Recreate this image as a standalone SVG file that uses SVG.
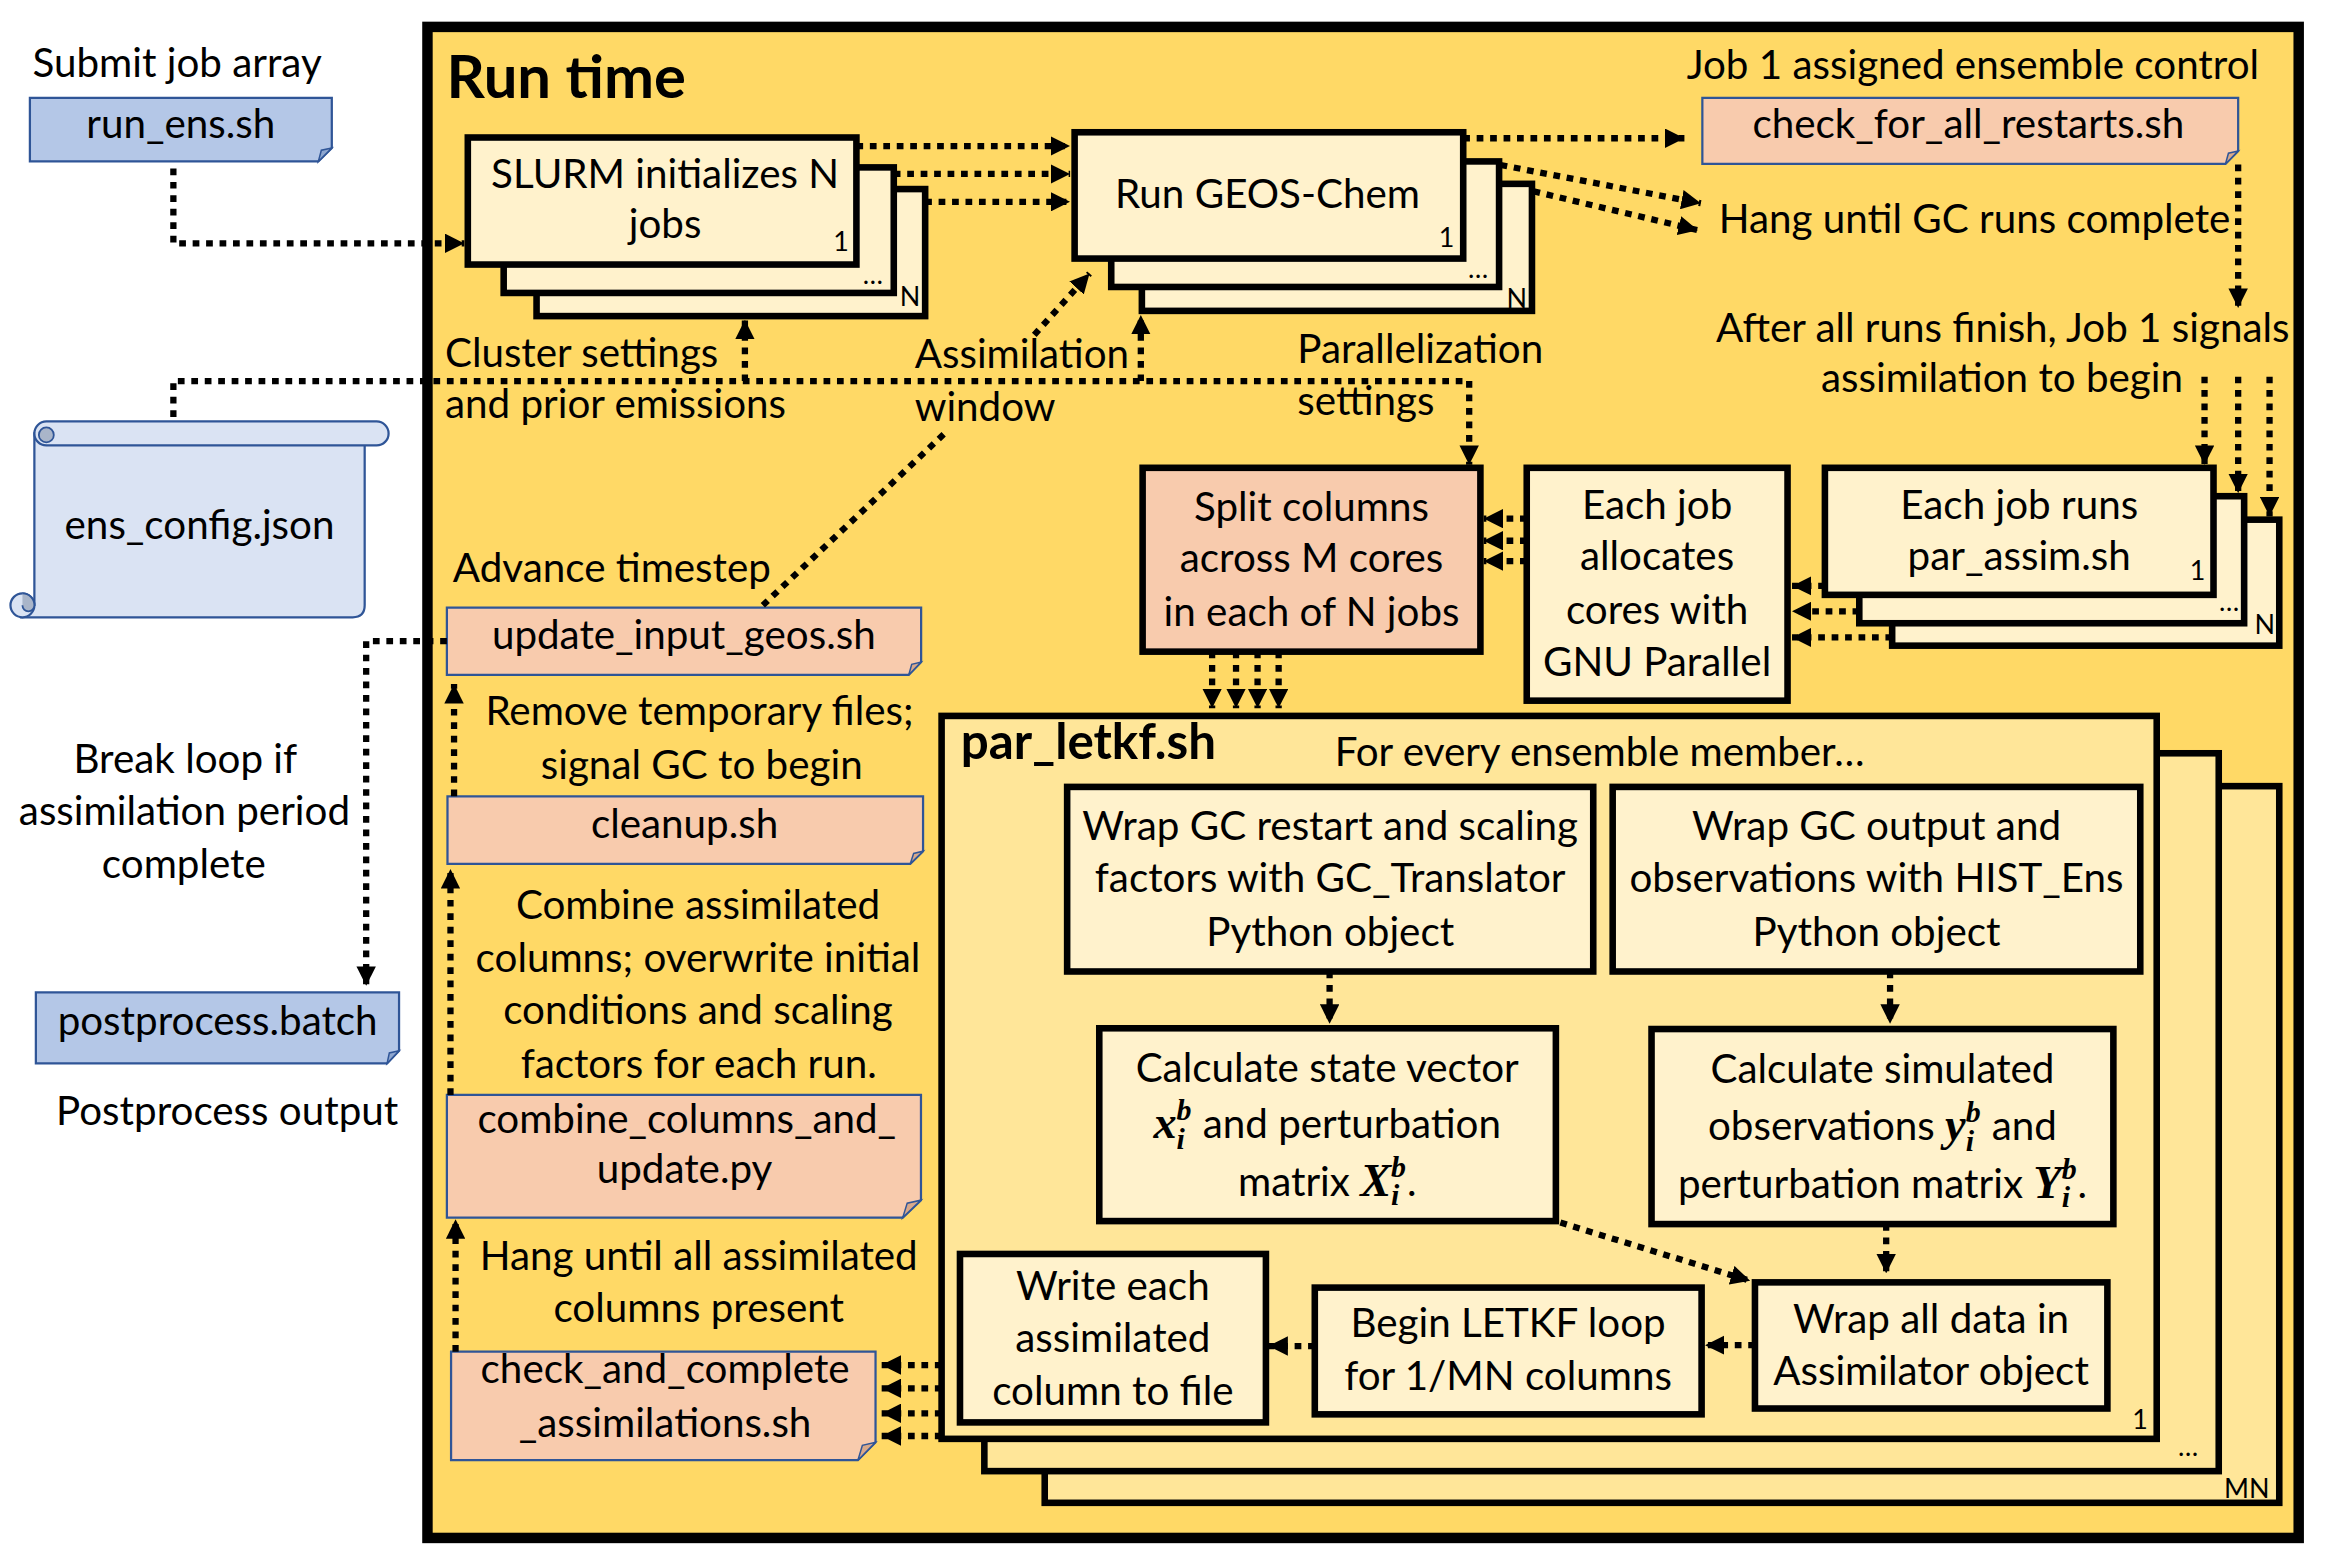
<svg xmlns="http://www.w3.org/2000/svg" width="2333" height="1561" viewBox="0 0 2333 1561">
<defs>
<style>
.t{font-family:Lato,"Liberation Sans",sans-serif;font-size:27px;fill:#000}
.c{text-anchor:middle}
.e{text-anchor:end}
.big{font-weight:bold;font-size:40px}
.mid{font-weight:bold;font-size:33px}
.sm{font-size:18px}
.m{font-family:"Liberation Serif",serif;font-weight:bold;font-style:italic}
.mx{font-size:31px}
.ms{font-size:20px}
.box{fill:#FFF2CC;stroke:#000;stroke-width:4.4}
.lk{fill:#FFE699;stroke:#000;stroke-width:4.4}
.file{fill:#F8CBAD;stroke:#2F5597;stroke-width:1.5}
.fold1{fill:#D9A98A;stroke:#2F5597;stroke-width:1}
.blue{fill:#B4C7E7;stroke:#2F5597;stroke-width:1.5}
.fold2{fill:#8EA6CF;stroke:#2F5597;stroke-width:1}
.cn{fill:none;stroke:#000;stroke-width:4.2;stroke-dasharray:4.5 4.5}
.a{marker-end:url(#ah)}
</style>
<marker id="ah" viewBox="0 0 13 13" refX="13" refY="6.5" markerWidth="13" markerHeight="13" markerUnits="userSpaceOnUse" orient="auto">
<path d="M0,0 L13,6.5 L0,13 Z" fill="#000"/>
</marker>
</defs>
<rect x="0" y="0" width="2333" height="1561" fill="#fff"/>
<g transform="scale(1.4946)">

<g id="runtime">
<rect x="286" y="18" width="1252" height="1011" fill="#FFD966" stroke="#000" stroke-width="7"/>
<text class="t big" x="298.7" y="65.8">Run time</text>
</g>

<!-- outside nodes -->
<g id="run_ens">
<text class="t c" x="118.5" y="51.4">Submit job array</text>
<path class="blue" d="M20,65.5 H222 V99 L213,108 H20 Z"/>
<path class="fold2" d="M213,108 L222,99 L215,100.5 Z"/>
<text class="t c" x="121" y="92.5">run_ens.sh</text>
</g>

<g id="ens_config">
<path d="M23,290 H244 V405 Q244,413 236,413 H15 L23,405 Z" fill="#DAE3F3" stroke="#2F5597" stroke-width="1.5"/>
<rect x="23" y="282" width="237" height="16" rx="8" fill="#DAE3F3" stroke="#2F5597" stroke-width="1.5"/>
<circle cx="31" cy="291" r="5" fill="#A9B5C9" stroke="#2F5597" stroke-width="1.2"/>
<circle cx="15" cy="405" r="8" fill="#DAE3F3" stroke="#2F5597" stroke-width="1.5"/>
<path d="M15,405 A4,4 0 1 0 23,405 A8,8 0 0 0 15,397" fill="#A9B5C9" stroke="#2F5597" stroke-width="1.2"/>
<text class="t c" x="133.5" y="360.5">ens_config.json</text>
</g>

<g id="break_label">
<text class="t c" x="124" y="517.5">Break loop if</text>
<text class="t c" x="123.4" y="552">assimilation period</text>
<text class="t c" x="123" y="587.4">complete</text>
</g>

<g id="postprocess">
<path class="blue" d="M24,664 H267 V703 L259,711.5 H24 Z"/>
<path class="fold2" d="M259,711.5 L267,703 L260.5,704.5 Z"/>
<text class="t c" x="145.6" y="692.8">postprocess.batch</text>
<text class="t c" x="152" y="752.7">Postprocess output</text>
</g>

<!-- SLURM stack -->
<g id="slurm">
<rect class="box" x="359" y="126.5" width="260" height="85"/>
<rect class="box" x="337" y="112" width="261" height="84"/>
<rect class="box" x="313" y="92" width="260" height="85"/>
<text class="t c" x="445" y="126">SLURM initializes N</text>
<text class="t c" x="445" y="159.5">jobs</text>
<text class="t sm e" x="568" y="168">1</text>
<text class="t sm c" x="584" y="190">…</text>
<text class="t sm" x="602" y="205">N</text>
</g>

<!-- GEOS-Chem stack -->
<g id="geoschem">
<rect class="box" x="764" y="123" width="261" height="85"/>
<rect class="box" x="743.5" y="108" width="259.5" height="84"/>
<rect class="box" x="719" y="88.5" width="260" height="84.5"/>
<text class="t c" x="848" y="139.4">Run GEOS-Chem</text>
<text class="t sm e" x="973" y="165">1</text>
<text class="t sm c" x="989" y="186">…</text>
<text class="t sm" x="1008" y="206">N</text>
</g>

<g id="check_restarts">
<text class="t c" x="1320" y="52.9">Job 1 assigned ensemble control</text>
<path class="file" d="M1139,65.5 H1497.5 V101 L1489,109.7 H1139 Z"/>
<path class="fold1" d="M1489,109.7 L1497.5,101 L1491,102.5 Z"/>
<text class="t c" x="1317" y="92.5">check_for_all_restarts.sh</text>
</g>

<g id="labels_top">
<text class="t" x="1150" y="156">Hang until GC runs complete</text>
<text class="t c" x="1340" y="228.6">After all runs finish, Job 1 signals</text>
<text class="t c" x="1339.5" y="262">assimilation to begin</text>
<text class="t" x="297.7" y="245.3">Cluster settings</text>
<text class="t" x="297.7" y="279.9">and prior emissions</text>
<text class="t" x="612" y="246.4">Assimilation</text>
<text class="t" x="612" y="281.5">window</text>
<text class="t" x="868" y="242.7">Parallelization</text>
<text class="t" x="868" y="277.7">settings</text>
</g>

<g id="split">
<rect x="764.5" y="313" width="226" height="123" fill="#F8CBAD" stroke="#000" stroke-width="4.4"/>
<text class="t c" x="877.5" y="348.4">Split columns</text>
<text class="t c" x="877.5" y="383">across M cores</text>
<text class="t c" x="877.5" y="419">in each of N jobs</text>
</g>

<g id="allocate">
<rect class="box" x="1021.5" y="313" width="174.5" height="155.8"/>
<text class="t c" x="1108.7" y="347">Each job</text>
<text class="t c" x="1108.7" y="381.7">allocates</text>
<text class="t c" x="1108.7" y="417.5">cores with</text>
<text class="t c" x="1108.7" y="452.2">GNU Parallel</text>
</g>

<g id="par_assim">
<rect class="box" x="1266" y="347.7" width="259" height="84.3"/>
<rect class="box" x="1244" y="332" width="257.5" height="85"/>
<rect class="box" x="1221" y="313" width="260" height="85"/>
<text class="t c" x="1351" y="347">Each job runs</text>
<text class="t c" x="1351" y="381.7">par_assim.sh</text>
<text class="t sm e" x="1475.5" y="388">1</text>
<text class="t sm c" x="1491.5" y="409">…</text>
<text class="t sm" x="1508.5" y="424">N</text>
</g>

<g id="update_input">
<text class="t" x="303" y="389.4">Advance timestep</text>
<path class="file" d="M299,406.6 H616.3 V443 L608,451.6 H299 Z"/>
<path class="fold1" d="M608,451.6 L616.3,443 L610,444.5 Z"/>
<text class="t c" x="457.5" y="434.2">update_input_geos.sh</text>
</g>

<g id="cleanup">
<text class="t c" x="468" y="485.4">Remove temporary files;</text>
<text class="t c" x="469.5" y="521.2">signal GC to begin</text>
<path class="file" d="M299.4,532.8 H617.6 V569.5 L609,578 H299.4 Z"/>
<path class="fold1" d="M609,578 L617.6,569.5 L611.3,571 Z"/>
<text class="t c" x="458" y="561">cleanup.sh</text>
</g>

<g id="combine">
<text class="t c" x="467" y="614.7">Combine assimilated</text>
<text class="t c" x="467" y="650.6">columns; overwrite initial</text>
<text class="t c" x="467" y="685.3">conditions and scaling</text>
<text class="t c" x="467.5" y="721.5">factors for each run.</text>
<path class="file" d="M299,732.6 H616.2 V803 L604,814.7 H299 Z"/>
<path class="fold1" d="M604,814.7 L616.2,803 L607,805 Z"/>
<text class="t c" x="459.5" y="758.3">combine_columns_and_</text>
<text class="t c" x="458" y="791.7">update.py</text>
</g>

<g id="check_complete">
<text class="t c" x="467.5" y="849.7">Hang until all assimilated</text>
<text class="t c" x="467.5" y="884.3">columns present</text>
<path class="file" d="M301.8,904.4 H585.8 V965 L574,977 H301.8 Z"/>
<path class="fold1" d="M574,977 L585.8,965 L577,967 Z"/>
<text class="t c" x="445" y="925.6">check_and_complete</text>
<text class="t c" x="445" y="961.3">_assimilations.sh</text>
</g>

<!-- par_letkf stack -->
<g id="par_letkf">
<rect class="lk" x="699" y="526" width="826" height="479.5"/>
<rect class="lk" x="658.6" y="504" width="825.9" height="480.3"/>
<rect class="lk" x="630" y="479" width="813" height="483.7"/>
<text class="t mid" x="642.8" y="508">par_letkf.sh</text>
<text class="t" x="893" y="512.3">For every ensemble member…</text>
<text class="t sm e" x="1437" y="956">1</text>
<text class="t sm c" x="1464" y="974">…</text>
<text class="t sm" x="1488" y="1002">MN</text>
</g>

<g id="wrap_restart">
<rect class="box" x="714" y="526.5" width="352" height="123.5"/>
<text class="t c" x="890" y="562">Wrap GC restart and scaling</text>
<text class="t c" x="890" y="597">factors with GC_Translator</text>
<text class="t c" x="890" y="632.7">Python object</text>
</g>

<g id="wrap_output">
<rect class="box" x="1079" y="526.5" width="353" height="123.5"/>
<text class="t c" x="1255.5" y="562">Wrap GC output and</text>
<text class="t c" x="1255.5" y="597">observations with HIST_Ens</text>
<text class="t c" x="1255.5" y="632.7">Python object</text>
</g>

<g id="calc_state">
<rect class="box" x="735.5" y="688" width="305.5" height="129"/>
<text class="t c" x="888" y="723.7">Calculate state vector</text>
<text class="t c" x="888" y="761.6"><tspan class="m mx">x</tspan><tspan class="m ms" dy="-12">b</tspan><tspan class="m ms" dx="-10" dy="19">i</tspan><tspan dx="5" dy="-7"> and perturbation</tspan></text>
<text class="t c" x="888" y="800.2">matrix <tspan class="m mx">X</tspan><tspan class="m ms" dy="-13">b</tspan><tspan class="m ms" dx="-10" dy="19">i</tspan><tspan dx="5" dy="-6">.</tspan></text>
</g>

<g id="calc_sim">
<rect class="box" x="1105" y="688.5" width="309" height="130.5"/>
<text class="t c" x="1259.5" y="724.8">Calculate simulated</text>
<text class="t c" x="1259.5" y="762.8">observations <tspan class="m mx">y</tspan><tspan class="m ms" dy="-12">b</tspan><tspan class="m ms" dx="-10" dy="19">i</tspan><tspan dx="5" dy="-7"> and</tspan></text>
<text class="t c" x="1259.5" y="801.8">perturbation matrix <tspan class="m mx">Y</tspan><tspan class="m ms" dy="-13">b</tspan><tspan class="m ms" dx="-10" dy="19">i</tspan><tspan dx="5" dy="-6">.</tspan></text>
</g>

<g id="write_each">
<rect class="box" x="642.3" y="839" width="204.7" height="112.7"/>
<text class="t c" x="744.6" y="869.8">Write each</text>
<text class="t c" x="744.6" y="904.4">assimilated</text>
<text class="t c" x="744.6" y="940">column to file</text>
</g>

<g id="begin_letkf">
<rect class="box" x="879.7" y="861.5" width="258.8" height="84.8"/>
<text class="t c" x="1009" y="894.3">Begin LETKF loop</text>
<text class="t c" x="1009" y="930">for 1/MN columns</text>
</g>

<g id="wrap_all">
<rect class="box" x="1174.2" y="858" width="235.8" height="84.4"/>
<text class="t c" x="1292" y="892">Wrap all data in</text>
<text class="t c" x="1292" y="926.7">Assimilator object</text>
</g>

<!-- connectors -->
<g id="connectors">
<path class="cn a" d="M116,112.7 V162.8 H310.7"/>
<path class="cn a" d="M573,97.7 H716"/>
<path class="cn a" d="M598,116.4 H716"/>
<path class="cn a" d="M619,135 H716"/>
<path class="cn a" d="M979,92.5 H1127"/>
<path class="cn a" d="M1004,110.4 L1138,136"/>
<path class="cn a" d="M1026,128 L1136,154"/>
<path class="cn a" d="M1497.5,110 V206"/>
<path class="cn a" d="M1475,252 V311"/>
<path class="cn a" d="M1497.5,252 V330"/>
<path class="cn a" d="M1518.5,252 V345.5"/>
<path class="cn a" d="M1221,392 H1199"/>
<path class="cn a" d="M1244,409 H1199"/>
<path class="cn a" d="M1266,426.5 H1199"/>
<path class="cn a" d="M1021.5,347 H992.7"/>
<path class="cn a" d="M1021.5,361.8 H992.7"/>
<path class="cn a" d="M1021.5,375.4 H992.7"/>
<path class="cn" d="M116,279 V255 H983"/>
<path class="cn a" d="M983,255 V311"/>
<path class="cn a" d="M498.4,255 V214"/>
<path class="cn a" d="M763.3,255 V210.8"/>
<path class="cn a" d="M811,436 V473.8"/>
<path class="cn a" d="M827,436 V473.8"/>
<path class="cn a" d="M841.4,436 V473.8"/>
<path class="cn a" d="M855.5,436 V473.8"/>
<path class="cn" d="M510.4,405 L632,290"/>
<path class="cn a" d="M692,224 L729,183"/>
<path class="cn a" d="M299,429 H245 V659.6"/>
<path class="cn a" d="M303.8,532.8 V457.7"/>
<path class="cn a" d="M301.4,732.6 V581.5"/>
<path class="cn a" d="M304.8,904.4 V815.8"/>
<path class="cn a" d="M630,913.3 H589.9"/>
<path class="cn a" d="M630,928.9 H589.9"/>
<path class="cn a" d="M630,945.6 H589.9"/>
<path class="cn a" d="M630,960.8 H589.9"/>
<path class="cn a" d="M889.6,650 V685"/>
<path class="cn a" d="M1264.6,650 V685"/>
<path class="cn a" d="M1262,819 V852"/>
<path class="cn a" d="M1044,818 L1171,857"/>
<path class="cn a" d="M1174.2,900 H1140.8"/>
<path class="cn a" d="M879.7,900.6 H848.7"/>
</g>
</g>
</svg>
